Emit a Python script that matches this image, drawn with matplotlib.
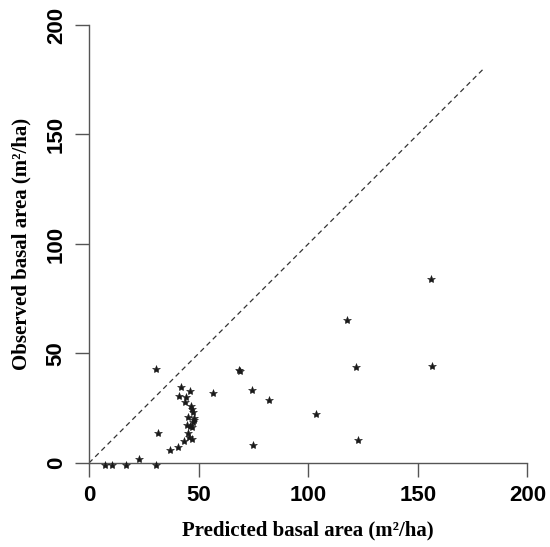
import matplotlib
matplotlib.use("Agg")
import matplotlib.pyplot as plt

# predicted vs observed basal area (m2/ha)
predicted = [30.7, 42.1, 46.0, 41.2, 44.2, 43.8, 47.1, 47.4, 45.0, 47.7,
             47.4, 44.7, 46.2, 47.0, 45.2, 45.4, 47.0, 43.2, 40.4, 36.8,
             31.5, 22.9, 7.1, 10.7, 16.7, 30.7, 56.7, 68.4, 68.9, 74.4,
             82.1, 103.7, 74.8, 155.9, 117.9, 121.6, 156.4, 122.6, 48.0, 46.5]
observed = [42.8, 34.8, 33.0, 30.6, 30.3, 28.0, 24.8, 23.4, 20.9, 20.5,
            18.9, 17.4, 16.8, 16.3, 13.5, 11.7, 11.0, 10.2, 7.2, 6.1,
            13.5, 2.0, -1.0, -1.0, -1.0, -1.0, 32.1, 42.5, 42.0, 33.3,
            28.9, 22.2, 8.1, 84.2, 65.3, 44.0, 44.4, 10.4, 19.6, 25.8]
line_x = [0, 180]
ticks = [0, 50, 100, 150, 200]

fig = plt.figure(figsize=(5.5, 5.47), dpi=100)
ax = fig.add_axes([0.1618, 0.1536, 0.7971, 0.8007])

ax.plot(predicted, observed, '*', color='#1a1a1a', markersize=6,
        markeredgewidth=0.4, clip_on=False, zorder=3)
ax.plot(line_x, line_x, '--', color='#333333', linewidth=0.9, dashes=(4, 3))

ax.set_xlim(0, 200)
ax.set_ylim(0, 200)
for s in ['top', 'right']:
    ax.spines[s].set_visible(False)
for s in ['left', 'bottom']:
    ax.spines[s].set_color('#555555')
    ax.spines[s].set_linewidth(1.0)

ax.set_xticks(ticks)
ax.set_yticks(ticks)
ax.tick_params(direction='out', length=10, width=1.0, color='#555555', pad=6)
for lab in ax.get_xticklabels():
    lab.set_family('Liberation Sans')
    lab.set_fontweight('bold')
    lab.set_fontsize(16)
for lab in ax.get_yticklabels():
    lab.set_family('Liberation Sans')
    lab.set_fontweight('bold')
    lab.set_fontsize(16)
    lab.set_rotation(90)
    lab.set_va('center')

ax.set_xlabel('Predicted basal area (m²/ha)', family='Liberation Serif',
              fontweight='bold', fontsize=15, labelpad=10)
ax.set_ylabel('Observed basal area (m²/ha)', family='Liberation Serif',
              fontweight='bold', fontsize=15, labelpad=10)

fig.savefig('out.png', dpi=100)
